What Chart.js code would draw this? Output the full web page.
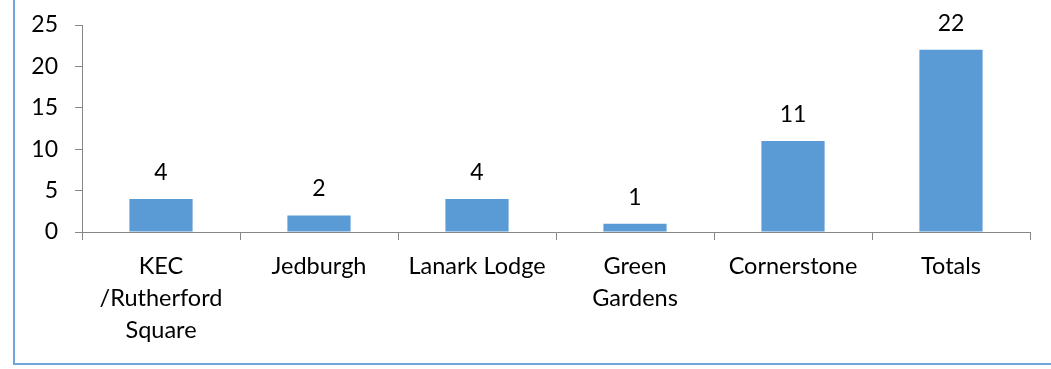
<!DOCTYPE html>
<html>
<head>
<meta charset="utf-8">
<style>
  html, body { margin: 0; padding: 0; background: #fff; }
  #wrap { position: relative; width: 1051px; height: 369px; }
  canvas { display: block; }
</style>
<script src="https://cdn.jsdelivr.net/npm/chart.js@4"></script>
</head>
<body>
<div id="wrap"><canvas id="c" width="1051" height="369"></canvas></div>
<script>
const categories = [
  ["KEC", "/Rutherford", "Square"],
  "Jedburgh",
  "Lanark Lodge",
  ["Green", "Gardens"],
  "Cornerstone",
  "Totals"
];
const values = [4, 2, 4, 1, 11, 22];
const yTicks = [0, 5, 10, 15, 20, 25];

const FONT = "Lato, 'Open Sans', sans-serif";

const frame = {
  id: 'frame',
  beforeDraw(chart) {
    const ctx = chart.ctx;
    ctx.save();
    ctx.fillStyle = '#fff';
    ctx.fillRect(0, 0, chart.width, chart.height);
    ctx.strokeStyle = '#6FA6DC';
    ctx.lineWidth = 2;
    ctx.beginPath();
    ctx.moveTo(14, -5);
    ctx.lineTo(14, 364);
    ctx.lineTo(chart.width + 5, 364);
    ctx.stroke();
    ctx.restore();
  }
};

const labelsPlugin = {
  id: 'valueLabels',
  afterDatasetsDraw(chart) {
    const ctx = chart.ctx;
    const meta = chart.getDatasetMeta(0);
    ctx.save();
    ctx.font = "23px " + FONT;
    ctx.fillStyle = '#000';
    ctx.textAlign = 'center';
    ctx.textBaseline = 'alphabetic';
    meta.data.forEach((bar, i) => {
      ctx.fillText(String(values[i]), bar.x, bar.y - 19);
    });
    ctx.restore();
  }
};

new Chart(document.getElementById('c'), {
  type: 'bar',
  data: {
    labels: categories,
    datasets: [{
      data: values,
      backgroundColor: '#5B9BD5',
      borderWidth: 0,
      categoryPercentage: 1,
      barPercentage: 0.4
    }]
  },
  options: {
    responsive: false,
    animation: false,
    layout: { padding: { top: 25, right: 21, left: 0, bottom: 0 } },
    plugins: { legend: { display: false }, tooltip: { enabled: false } },
    scales: {
      x: {
        grid: { display: true, drawOnChartArea: false, drawTicks: true, tickLength: 8, color: '#868686', offset: true },
        border: { display: true, color: '#868686', width: 1 },
        ticks: { color: '#000', font: { family: FONT, size: 23.5, lineHeight: 1.37 }, padding: 10, maxRotation: 0, autoSkip: false },
        afterFit(scale) { scale.height = 137; scale.paddingLeft = 0; scale.paddingRight = 0; }
      },
      y: {
        min: 0, max: 25,
        afterBuildTicks(scale) { scale.ticks = yTicks.map(v => ({ value: v })); },
        grid: { display: true, drawOnChartArea: false, drawTicks: true, tickLength: 7, color: '#868686' },
        border: { display: true, color: '#868686', width: 1 },
        ticks: { color: '#000', font: { family: FONT, size: 23 }, padding: 17 },
        afterFit(scale) { scale.width = 82; scale.paddingTop = 0; scale.paddingBottom = 0; }
      }
    }
  },
  plugins: [frame, labelsPlugin]
});
</script>
</body>
</html>
